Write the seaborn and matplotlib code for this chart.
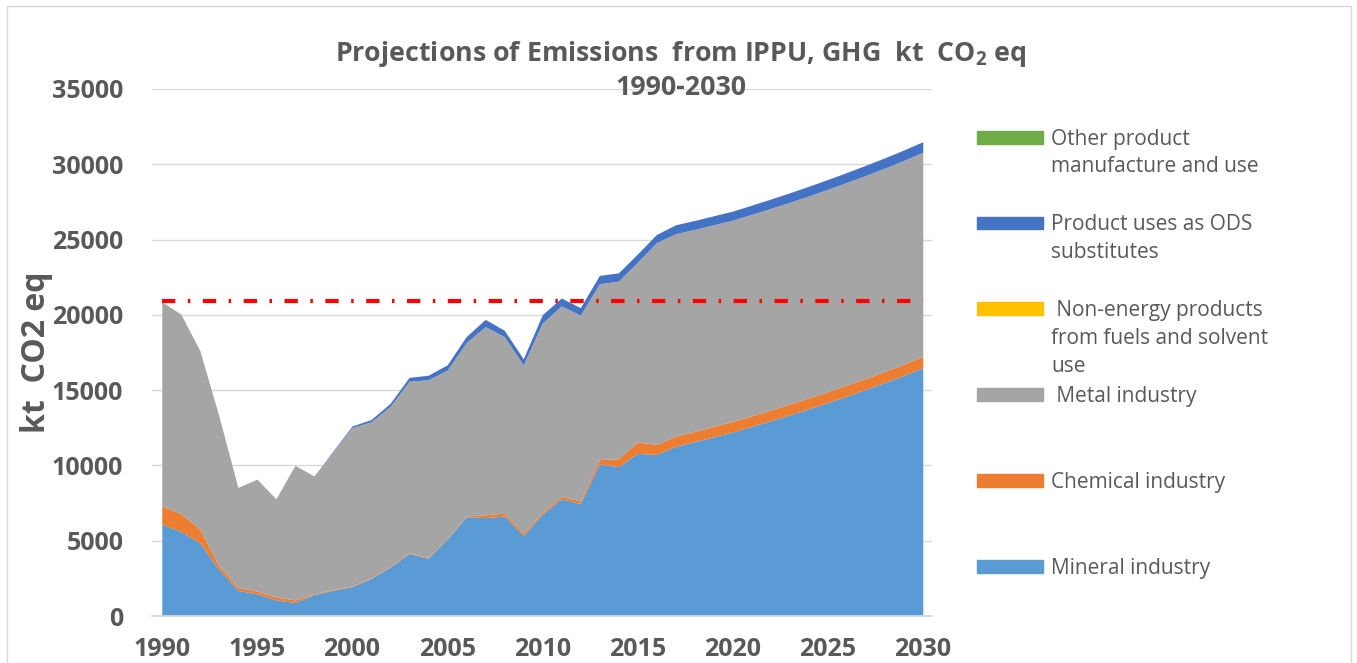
import numpy as np
import matplotlib
matplotlib.use("Agg")
import matplotlib.pyplot as plt
from matplotlib.patches import Rectangle
import seaborn as sns

# data (kt CO2 eq)
years = np.arange(1990, 2031)
mineral = [6100, 5620, 4860, 3080, 1710, 1470, 1070, 900, 1420, 1710,
           1950, 2490, 3250, 4150, 3840, 5100, 6600, 6530, 6640, 5340,
           6760, 7780, 7470, 10090, 9920, 10800, 10730, 11270, 11580, 11900,
           12220, 12590, 12970, 13360, 13760, 14175, 14605, 15050, 15510, 15985, 16490]
chemical = [1210, 1190, 910, 260, 190, 190, 190, 170, 50, 50,
            50, 50, 50, 50, 50, 50, 50, 190, 190, 160,
            120, 170, 170, 300, 520, 760, 660, 670, 680, 690,
            700, 705, 710, 715, 720, 725, 730, 735, 740, 745, 750]
metal = [13570, 13240, 11860, 9950, 6640, 7430, 6520, 8940, 7830, 9150,
         10520, 10360, 10620, 11400, 11800, 11180, 11510, 12500, 11730, 11180,
         12580, 12650, 12340, 11680, 11800, 11940, 13410, 13450, 13420, 13390,
         13370, 13380, 13390, 13400, 13420, 13440, 13460, 13480, 13500, 13530, 13560]
non_energy = [0] * 41
ods = [0, 0, 0, 0, 0, 0, 0, 0, 0, 50,
       100, 150, 200, 250, 300, 350, 400, 480, 420, 400,
       550, 520, 500, 550, 550, 540, 540, 590, 590, 600,
       600, 610, 620, 630, 640, 650, 660, 670, 680, 690, 700]
other = [0] * 41
ref_level = 20900

labels = ["Mineral industry", "Chemical industry", " Metal industry",
          " Non-energy products\nfrom fuels and solvent\nuse",
          "Product uses as ODS\nsubstitutes",
          "Other product\nmanufacture and use"]
colors = ["#5B9BD5", "#ED7D31", "#A5A5A5", "#FFC000", "#4472C4", "#70AD47"]
series = [mineral, chemical, metal, non_energy, ods, other]

sns.set_theme(style="white")
plt.rcParams["font.family"] = ["Open Sans", "DejaVu Sans"]
plt.rcParams["mathtext.default"] = "regular"
grey_txt = "#595959"

W, H = 1357, 663
fig = plt.figure(figsize=(W / 100, H / 100), dpi=100)
ax = fig.add_axes([151.7 / W, (H - 616) / H, 780 / W, 527 / H])

polys = ax.stackplot(years, *series, colors=colors, linewidth=0)
ax.plot([years[0], years[-1]], [ref_level, ref_level], color="#FF0000", lw=3,
        dashes=(3.2, 3.0, 0.6, 3.0))

ax.set_xlim(1989.47, 2030.47)
ax.set_ylim(0, 35000)
ax.set_xticks(np.arange(1990, 2031, 5))
ax.set_yticks(np.arange(0, 35001, 5000))
ax.yaxis.grid(True, color="#D9D9D9", lw=1)
ax.set_axisbelow(True)
for s in ["left", "right", "top"]:
    ax.spines[s].set_visible(False)
ax.spines["bottom"].set_color("#D9D9D9")
ax.tick_params(axis="both", length=0, colors=grey_txt, labelsize=18)
ax.tick_params(axis="y", pad=20.4)
ax.tick_params(axis="x", pad=15)
for t in ax.get_xticklabels() + ax.get_yticklabels():
    t.set_fontweight("bold")

ax.set_ylabel("kt  CO2 eq", fontsize=23, fontweight="bold", color=grey_txt)
ax.yaxis.set_label_coords((53 - 151.7) / 780, 0.5)

# multi-line text: va="baseline" sits on the last line
fig.text(681 / W, 1 - 95 / H,
         "Projections of Emissions  from IPPU, GHG  kt  CO$_2$ eq\n1990-2030",
         ha="center", va="baseline", fontsize=19.3, fontweight="bold",
         color=grey_txt, linespacing=1.32)

# legend, Excel style: top entry = top of the stack
for i, k in enumerate(range(len(series) - 1, -1, -1)):
    yc = 137.2 + 85.8 * i
    n_lines = labels[k].count("\n") + 1
    fig.patches.append(Rectangle((976.7 / W, 1 - (yc + 6.3) / H), 66.5 / W, 12.7 / H,
                                 transform=fig.transFigure, color=colors[k]))
    fig.text(1051 / W, 1 - (yc + 7.4 + 27.8 * (n_lines - 1)) / H, labels[k],
             ha="left", va="baseline", fontsize=15, color=grey_txt, linespacing=1.43)

# outer chart border
fig.patches.append(Rectangle((7 / W, -0.01), 1344 / W, 1.01 - 5.5 / H,
                             transform=fig.transFigure, fill=False,
                             edgecolor="#D9D9D9", lw=1))

fig.savefig("out.png", dpi=100)
